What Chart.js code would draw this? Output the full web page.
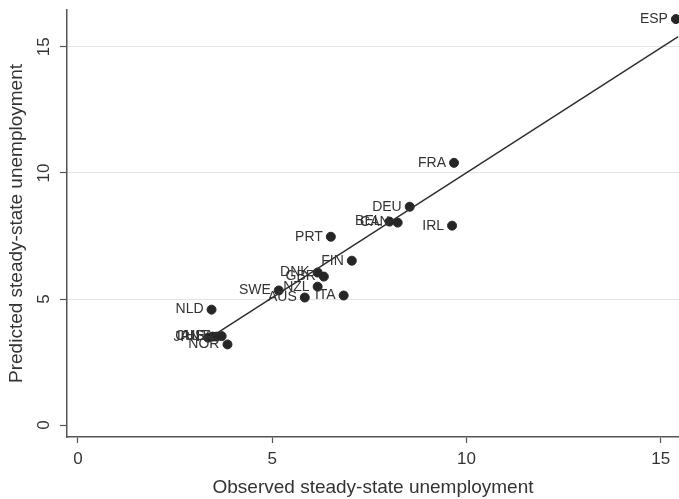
<!DOCTYPE html>
<html>
<head>
<meta charset="utf-8">
<script src="https://cdn.jsdelivr.net/npm/chart.js@4"></script>
<style>
  html, body { margin: 0; padding: 0; background: #fff; }
  #wrap { width: 679px; height: 499px; }
</style>
</head>
<body>
<div id="wrap"><canvas id="chart" width="679" height="499"></canvas></div>
<script>
const countries = ['ESP', 'FRA', 'DEU', 'BEL', 'CAN', 'IRL', 'PRT', 'FIN', 'DNK', 'GBR',
    'NZL', 'SWE', 'AUS', 'ITA', 'NLD', 'NOR', 'JPN', 'CHE', 'AUT', 'USA']
const observed = [15.39, 9.68, 8.54, 8.02, 8.23, 9.63, 6.51, 7.05, 6.17, 6.33,
    6.17, 5.17, 5.84, 6.84, 3.44, 3.85, 3.35, 3.47, 3.57, 3.70]
const predicted = [16.10, 10.40, 8.66, 8.07, 8.03, 7.91, 7.47, 6.52, 6.05, 5.89,
    5.49, 5.34, 5.06, 5.14, 4.58, 3.20, 3.47, 3.51, 3.51, 3.53]

// fitted line, end points
const fitX = [3.35, 15.45]
const fitY = [3.42, 15.40]

const xTicks = [0, 5, 10, 15]
const yTicks = [0, 5, 10, 15]

const textColor = '#333'
const axisColor = '#555'
const fontFamily = '"Liberation Sans", Arial, sans-serif'

const pointLabels = {
    id: 'pointLabels',
    afterDatasetsDraw(chart) {
        const meta = chart.getDatasetMeta(1)
        const ctx = chart.ctx
        ctx.save()
        ctx.font = '14px ' + fontFamily
        ctx.fillStyle = textColor
        ctx.textAlign = 'right'
        ctx.textBaseline = 'middle'
        meta.data.forEach((pt, i) => {
            ctx.fillText(countries[i], pt.x - 8, pt.y)
        })
        ctx.restore()
    }
}

new Chart(document.getElementById('chart').getContext('2d'), {
    type: 'scatter',
    data: {
        datasets: [{
                type: 'line',
                data: fitX.map((x, i) => ({ x: x, y: fitY[i] })),
                borderColor: '#2f2f2f',
                borderWidth: 1.5,
                pointRadius: 0,
                fill: false,
                order: 0
            },
            {
                data: observed.map((x, i) => ({ x: x, y: predicted[i] })),
                backgroundColor: '#262626',
                borderColor: '#262626',
                pointRadius: 4.5,
                pointHoverRadius: 4.5,
                clip: false,
                order: 1
            }
        ]
    },
    options: {
        responsive: false,
        animation: false,
        devicePixelRatio: 1,
        layout: { autoPadding: false, padding: { top: 10, right: 0, left: 0, bottom: 0 } },
        plugins: { legend: { display: false }, tooltip: { enabled: false } },
        scales: {
            x: {
                type: 'linear',
                min: -0.28,
                max: 15.47,
                afterBuildTicks: s => { s.ticks = xTicks.map(v => ({ value: v })) },
                afterFit: s => { s.height = 62; s.paddingRight = 0; s.paddingLeft = 0 },
                border: { display: true, color: axisColor, width: 1.5 },
                grid: { drawOnChartArea: false, drawTicks: true, tickLength: 6, tickColor: axisColor, tickWidth: 1.2 },
                ticks: { color: textColor, font: { family: fontFamily, size: 17 }, padding: 6, maxRotation: 0 },
                title: { display: true, text: 'Observed steady-state unemployment', color: textColor,
                    font: { family: fontFamily, size: 19 }, padding: { top: 3, bottom: 0 } }
            },
            y: {
                type: 'linear',
                min: -0.47,
                max: 16.46,
                afterBuildTicks: s => { s.ticks = yTicks.map(v => ({ value: v })) },
                afterFit: s => { s.width = 67; s.paddingTop = 0; s.paddingBottom = 0 },
                border: { display: true, color: axisColor, width: 1.5 },
                grid: {
                    color: c => c.tick && c.tick.value === 0 ? 'rgba(0,0,0,0)' : '#e4e4e4',
                    lineWidth: 1,
                    drawTicks: true, tickLength: 7, tickColor: axisColor, tickWidth: 1.2
                },
                ticks: { color: textColor, font: { family: fontFamily, size: 17 }, padding: 6,
                    minRotation: 90, maxRotation: 90, crossAlign: 'center' },
                title: { display: true, text: 'Predicted steady-state unemployment', color: textColor,
                    font: { family: fontFamily, size: 19 }, padding: { top: 5, bottom: 0 } }
            }
        }
    },
    plugins: [pointLabels]
})
</script>
</body>
</html>
